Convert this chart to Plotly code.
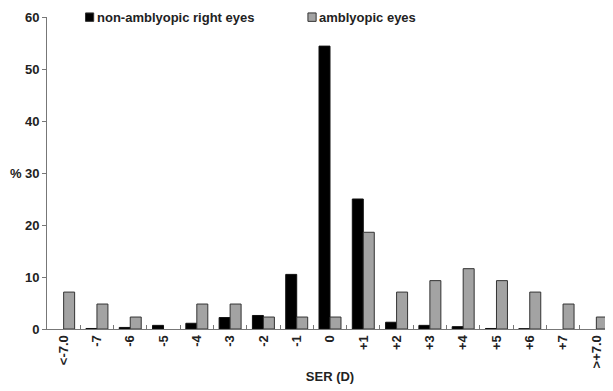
import plotly.graph_objects as go

categories = ["<-7.0", "-7", "-6", "-5", "-4", "-3", "-2", "-1", "0",
              "+1", "+2", "+3", "+4", "+5", "+6", "+7", ">+7.0"]
non_amblyopic = [0.0, 0.1, 0.3, 0.7, 1.1, 2.2, 2.6, 10.5, 54.4,
                 25.0, 1.3, 0.7, 0.45, 0.1, 0.05, 0.0, 0.0]
amblyopic = [7.1, 4.8, 2.3, 0.0, 4.8, 4.8, 2.3, 2.3, 2.3,
             18.6, 7.1, 9.3, 11.6, 9.3, 7.1, 4.8, 2.3]
y_ticks = [0, 10, 20, 30, 40, 50, 60]

FONT = "Liberation Sans, Arial, sans-serif"
TXT = "#222222"
FS = 13

fig = go.Figure()
fig.add_trace(go.Bar(x=categories, y=non_amblyopic, name="non-amblyopic right eyes",
                     marker=dict(color="#000000",
                                 line=dict(color="#111111",
                                           width=[1 if v > 0 else 0 for v in non_amblyopic]))))
fig.add_trace(go.Bar(x=categories, y=amblyopic, name="amblyopic eyes",
                     marker=dict(color="#a3a3a3",
                                 line=dict(color="#333333",
                                           width=[1 if v > 0 else 0 for v in amblyopic]))))

# the page body has an 8px margin, so the figure is 8px smaller than the window
fig.update_layout(
    width=605, height=383,
    margin=dict(l=39, r=0, t=9, b=62),
    paper_bgcolor="white", plot_bgcolor="white",
    barmode="group", bargap=0.34, bargroupgap=0,
    showlegend=False,
    font=dict(family=FONT, size=FS, color=TXT),
)
fig.update_xaxes(
    type="category", range=[-0.5, 16.5],
    tickvals=categories, ticktext=[f"<b>{c}</b>" for c in categories],
    showline=True, linecolor="#777777", linewidth=1,
    ticks="inside", tickson="boundaries", ticklen=4, tickcolor="#777777",
    tickangle=-90, tickfont=dict(family=FONT, size=FS, color=TXT),
    showgrid=False,
    title=dict(text="<b>SER (D)</b>", font=dict(family=FONT, size=FS, color=TXT), standoff=4),
)
fig.update_yaxes(
    range=[0, 60], tickvals=y_ticks, ticktext=[f"<b>{v}</b>" for v in y_ticks],
    showline=True, linecolor="#777777", linewidth=1,
    ticks="outside", ticklen=4, tickcolor="#777777",
    tickfont=dict(family=FONT, size=FS, color=TXT),
    showgrid=False, zeroline=False,
)
fig.add_annotation(text="<b>%</b>", xref="paper", yref="y", x=-0.041, y=30,
                   xanchor="right", yanchor="middle", showarrow=False,
                   font=dict(family=FONT, size=FS, color=TXT))

# legend (drawn manually to keep symbol adjacent to the text)
legend_items = [("non-amblyopic right eyes", "#000000", 0.068),
                ("amblyopic eyes", "#a3a3a3", 0.461)]
for label, col, xp in legend_items:
    fig.add_shape(type="rect", xref="paper", yref="paper",
                  x0=xp, x1=xp + 0.0145, y0=0.986, y1=1.013,
                  fillcolor=col, line=dict(color="#333333", width=1))
    fig.add_annotation(text=f"<b>{label}</b>", xref="paper", yref="paper",
                       x=xp + 0.0165, y=1.0, xanchor="left", yanchor="middle",
                       showarrow=False, font=dict(family=FONT, size=FS, color=TXT))

fig.write_html("out.html")
